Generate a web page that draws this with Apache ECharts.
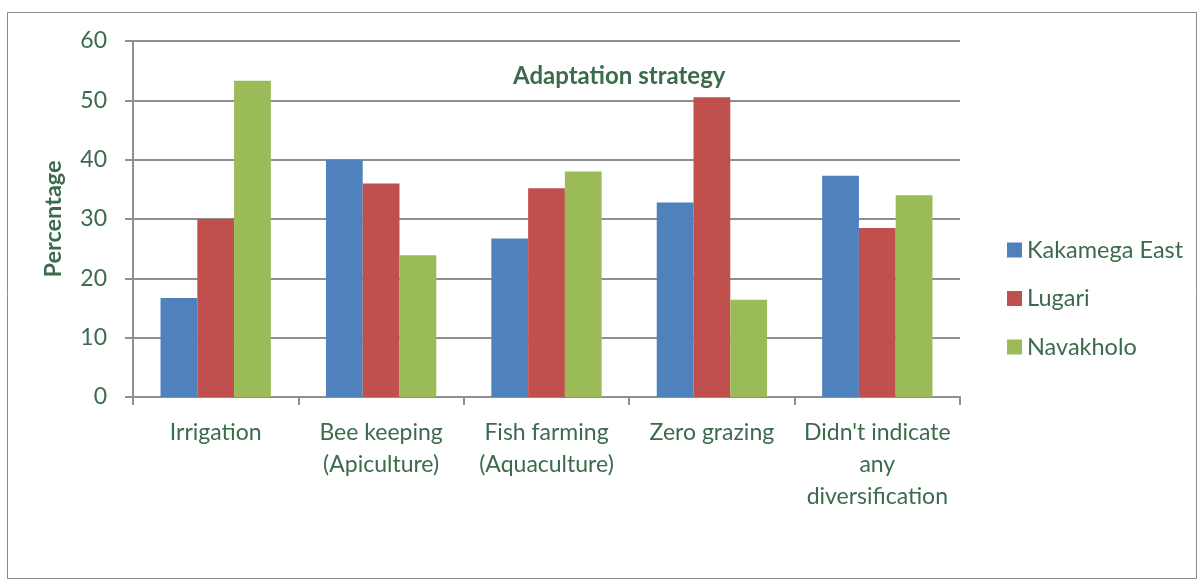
<!DOCTYPE html>
<html>
<head>
<meta charset="utf-8">
<script src="https://cdn.jsdelivr.net/npm/echarts@6/dist/echarts.min.js"></script>
<style>
  html, body { margin: 0; padding: 0; background: #fff; }
  #chart { width: 1201px; height: 581px; }
</style>
</head>
<body>
<div id="chart"></div>
<script>
// data
const categories = ['Irrigation', 'Bee keeping\n(Apiculture)', 'Fish farming\n(Aquaculture)', 'Zero grazing', "Didn't indicate\nany\ndiversification"]
const kakamegaEast = [16.7, 40.0, 26.7, 32.8, 37.3]
const lugari = [30.0, 36.0, 35.2, 50.5, 28.5]
const navakholo = [53.3, 23.9, 38.0, 16.4, 34.0]
const yTicks = { min: 0, max: 60, interval: 10 }

const textColor = '#3b6b4c'
const lineColor = '#8f8f8f'
const font = 'Lato, "Open Sans", sans-serif'

const chart = echarts.init(document.getElementById('chart'))

chart.setOption({
  animation: false,
  textStyle: { fontFamily: font },
  title: {
    text: 'Adaptation strategy',
    left: 508,
    top: 59,
    textStyle: { color: textColor, fontSize: 24, fontWeight: 'bold', fontFamily: font }
  },
  graphic: [{
    type: 'rect',
    shape: { x: 7.5, y: 12.5, width: 1189, height: 566 },
    style: { fill: 'none', stroke: '#8a8a8a', lineWidth: 1 },
    silent: true
  }],
  legend: {
    orient: 'vertical',
    left: 1002,
    top: 233,
    icon: 'rect',
    itemWidth: 15,
    itemHeight: 15,
    itemGap: 24.5,
    textStyle: { color: textColor, fontSize: 23.5, lineHeight: 24, fontFamily: font }
  },
  grid: { left: 133, right: 241, top: 41, bottom: 184 },
  xAxis: {
    type: 'category',
    data: categories,
    axisLine: { lineStyle: { color: lineColor, width: 2 } },
    axisTick: { show: true, length: 8, lineStyle: { color: lineColor, width: 2 } },
    axisLabel: { color: textColor, fontSize: 23, lineHeight: 32, margin: 20, interval: 0, fontFamily: font }
  },
  yAxis: {
    type: 'value',
    min: yTicks.min,
    max: yTicks.max,
    interval: yTicks.interval,
    name: 'Percentage',
    nameLocation: 'middle',
    nameGap: 68,
    nameTextStyle: { color: textColor, fontSize: 23.5, fontWeight: 'bold', fontFamily: font },
    axisLine: { show: true, lineStyle: { color: lineColor, width: 2 } },
    axisTick: { show: true, length: 8, lineStyle: { color: lineColor, width: 2 } },
    axisLabel: { color: textColor, fontSize: 23, margin: 26, fontFamily: font },
    splitLine: { lineStyle: { color: lineColor, width: 2 } }
  },
  series: [
    { name: 'Kakamega East', type: 'bar', data: kakamegaEast, itemStyle: { color: '#4f81bd' }, barGap: '0%', barCategoryGap: '33.3%' },
    { name: 'Lugari', type: 'bar', data: lugari, itemStyle: { color: '#c0504d' } },
    { name: 'Navakholo', type: 'bar', data: navakholo, itemStyle: { color: '#9bbb59' } }
  ]
})
</script>
</body>
</html>
